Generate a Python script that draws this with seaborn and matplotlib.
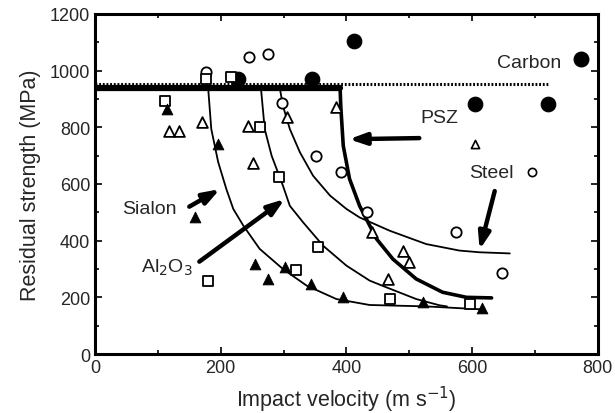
import numpy as np
import pandas as pd
import matplotlib
matplotlib.use("Agg")
import matplotlib.pyplot as plt
import seaborn as sns

# ---------------------------------------------------------
# data
# ---------------------------------------------------------
carbon_x = [227, 345, 412, 604, 720]
carbon_y = [971, 971, 1105, 882, 882]

steel_x = [177, 245, 275, 297, 352, 392, 432, 575, 647]
steel_y = [997, 1047, 1059, 886, 700, 641, 500, 430, 286]

alumina_x = [111, 176, 217, 262, 293, 355, 320, 180, 469, 596]
alumina_y = [894, 971, 976, 800, 626, 377, 296, 259, 194, 176]

sialon_x = [114, 196, 159, 254, 276, 303, 344, 395, 522, 615]
sialon_y = [865, 741, 482, 318, 265, 306, 247, 200, 182, 161]

psz_x = [118, 134, 171, 244, 252, 305, 383, 440, 490, 500, 466]
psz_y = [788, 788, 818, 806, 674, 835, 871, 430, 365, 324, 265]

# fitted curves (traced)
sialon_cx = [0, 180, 185, 196, 209, 220, 236, 262, 299, 337, 384, 437, 527, 620]
sialon_cy = [940, 939, 794, 677, 582, 512, 453, 371, 300, 241, 194, 173, 168, 157]

alumina_cx = [0, 264, 270, 281, 299, 310, 331, 363, 400, 437, 464, 511, 548, 560]
alumina_cy = [940, 939, 794, 700, 594, 523, 465, 382, 312, 259, 235, 194, 172, 168]

steel_cx = [0, 294, 299, 310, 326, 347, 374, 400, 421, 469, 527, 580, 612, 660]
steel_cy = [940, 939, 876, 794, 712, 629, 559, 512, 482, 435, 388, 365, 359, 355]

psz_cx = [0, 390, 391, 395, 405, 421, 448, 474, 511, 553, 591, 631]
psz_cy = [940, 939, 876, 735, 618, 523, 406, 335, 265, 218, 200, 198]

plateau_x = [0, 390]
plateau_y = [938, 938]

carbon_lx = [0, 720]
carbon_ly = [953, 953]

# ---------------------------------------------------------
# figure
# ---------------------------------------------------------
sns.set_style("ticks")
plt.rcParams['font.family'] = ['Liberation Sans', 'DejaVu Sans']

fig = plt.figure(figsize=(6.15, 4.14), dpi=100)
ax = fig.add_axes([0.1545, 0.1425, 0.8175, 0.8213])

k = "black"

# curves
for cx, cy, lw in [(sialon_cx, sialon_cy, 1.3), (alumina_cx, alumina_cy, 1.3),
                   (steel_cx, steel_cy, 1.3), (psz_cx, psz_cy, 2.6)]:
    sns.lineplot(x=cx, y=cy, ax=ax, color=k, lw=lw, sort=False, estimator=None)
sns.lineplot(x=plateau_x, y=plateau_y, ax=ax, color=k, lw=4.5, sort=False, estimator=None)
sns.lineplot(x=carbon_lx, y=carbon_ly, ax=ax, color=k, lw=2.2, linestyle=(0, (0.6, 0.6)),
             sort=False, estimator=None)

# points
sns.scatterplot(x=carbon_x, y=carbon_y, ax=ax, marker="o", s=110, color=k, edgecolor=k, zorder=5)
sns.scatterplot(x=steel_x, y=steel_y, ax=ax, marker="o", s=55, facecolor="white",
                edgecolor=k, linewidth=1.3, zorder=5)
sns.scatterplot(x=alumina_x, y=alumina_y, ax=ax, marker="s", s=45, facecolor="white",
                edgecolor=k, linewidth=1.3, zorder=5)
sns.scatterplot(x=sialon_x, y=sialon_y, ax=ax, marker="^", s=60, color=k, edgecolor=k, zorder=5)
sns.scatterplot(x=psz_x, y=psz_y, ax=ax, marker="^", s=60, facecolor="white",
                edgecolor=k, linewidth=1.3, zorder=5)

# labels with their symbols
fs = 14
ax.text(691, 1028, "Carbon", fontsize=fs, ha="center", va="center")
ax.scatter([774], [1041], marker="o", s=110, color=k, zorder=5)
ax.text(548, 834, "PSZ", fontsize=fs, ha="center", va="center")
ax.scatter([604], [741], marker="^", s=35, facecolor="white", edgecolor=k, linewidth=1.2, zorder=5)
ax.text(631, 641, "Steel", fontsize=fs, ha="center", va="center")
ax.scatter([696], [641], marker="o", s=35, facecolor="white", edgecolor=k, linewidth=1.2, zorder=5)
ax.text(87, 512, "Sialon", fontsize=fs, ha="center", va="center")
ax.text(114, 306, "Al$_2$O$_3$", fontsize=fs, ha="center", va="center")

arrow = dict(arrowstyle="-|>,head_length=1.0,head_width=0.35", color=k, lw=3.2,
             shrinkA=0, shrinkB=0)
ax.annotate("", xy=(404, 758), xytext=(516, 762), arrowprops=arrow)
ax.annotate("", xy=(612, 368), xytext=(636, 575), arrowprops=arrow)
ax.annotate("", xy=(199, 582), xytext=(150, 520), arrowprops=arrow)
ax.annotate("", xy=(302, 547), xytext=(166, 326), arrowprops=arrow)

# axes
ax.set_xlim(0, 800)
ax.set_ylim(0, 1200)
ax.set_xticks(np.arange(0, 801, 200))
ax.set_yticks(np.arange(0, 1201, 200))
ax.set_xticks(np.arange(0, 801, 100), minor=True)
ax.set_yticks(np.arange(0, 1201, 100), minor=True)
ax.tick_params(which="both", direction="in", top=True, right=True, labelsize=13,
               width=1.2, color=k)
ax.tick_params(which="major", length=5)
ax.tick_params(which="minor", length=3)
for sp in ax.spines.values():
    sp.set_linewidth(2.2)
    sp.set_color(k)

ax.set_xlabel("Impact velocity (m s$^{-1}$)", fontsize=15.5, labelpad=6)
ax.set_ylabel("Residual strength (MPa)", fontsize=15.5, labelpad=6)

fig.savefig("out.png", dpi=100)
